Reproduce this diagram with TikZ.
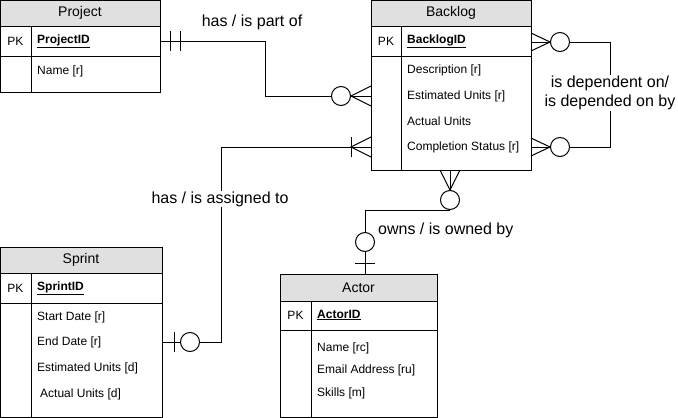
\documentclass[tikz,border=0pt]{standalone}
\usepackage{fontspec}
\setmainfont{Liberation Sans}
\usetikzlibrary{calc}
\definecolor{hdrgray}{RGB}{224,224,224}
\tikzset{
  tbl/.style={draw, line width=1pt, anchor=north west, inner sep=0pt, outer sep=0pt},
  hdr/.style={tbl, fill=hdrgray, font=\fontsize{14}{16}\selectfont},
  attr/.style={anchor=west, inner sep=0pt, font=\fontsize{12}{14}\selectfont},
  pklab/.style={inner sep=0pt, font=\fontsize{12}{14}\selectfont},
  pkattr/.style={attr, font=\fontsize{12}{14}\selectfont\bfseries},
  rel/.style={font=\fontsize{16}{19}\selectfont, fill=white, inner sep=1pt, align=center},
  conn/.style={line width=1pt},
  ring/.style={circle, draw, line width=1pt, minimum size=19pt, inner sep=0pt, fill=white},
}
\begin{document}
\begin{tikzpicture}[x=1pt,y=-1pt]
\useasboundingbox (0,0) rectangle (678,418);

% ---------- Project ----------
\node[hdr, minimum width=160pt, minimum height=26pt] (pjH) at (0,0) {Project};
\node[tbl, minimum width=160pt, minimum height=30pt] (pjPK) at (0,26) {};
\node[tbl, minimum width=160pt, minimum height=36pt] (pjB) at (0,56) {};
\draw[conn] (31,26) -- (31,92);
\node[pklab] (pjPKl) at (15.5,41) {PK};
\node[pkattr] (pjID) at (37,41) {\underline{ProjectID}};
\node[attr] (pjA1) at (37,71) {Name [r]};

% ---------- Backlog ----------
\node[hdr, minimum width=160pt, minimum height=26pt] (blH) at (371,0) {Backlog};
\node[tbl, minimum width=160pt, minimum height=30pt] (blPK) at (371,26) {};
\node[tbl, minimum width=160pt, minimum height=114pt] (blB) at (371,56) {};
\draw[conn] (401,26) -- (401,170);
\node[pklab] (blPKl) at (386,41) {PK};
\node[pkattr] (blID) at (407,41) {\underline{BacklogID}};
\node[attr] (blA1) at (407,70) {Description [r]};
\node[attr] (blA2) at (407,96) {Estimated Units [r]};
\node[attr] (blA3) at (407,121) {Actual Units};
\node[attr] (blA4) at (407,147) {Completion Status [r]};

% ---------- Sprint ----------
\node[hdr, minimum width=162pt, minimum height=26pt] (spH) at (0,247) {Sprint};
\node[tbl, minimum width=162pt, minimum height=30pt] (spPK) at (0,273) {};
\node[tbl, minimum width=162pt, minimum height=114pt] (spB) at (0,303) {};
\draw[conn] (31,273) -- (31,417);
\node[pklab] (spPKl) at (15.5,288) {PK};
\node[pkattr] (spID) at (37,288) {\underline{SprintID}};
\node[attr] (spA1) at (37,317) {Start Date [r]};
\node[attr] (spA2) at (37,342) {End Date [r]};
\node[attr] (spA3) at (37,368) {Estimated Units [d]};
\node[attr] (spA4) at (40,394) {Actual Units [d]};

% ---------- Actor ----------
\node[hdr, minimum width=157pt, minimum height=27pt] (acH) at (280,274) {Actor};
\node[tbl, minimum width=157pt, minimum height=29pt] (acPK) at (280,301) {};
\node[tbl, minimum width=157pt, minimum height=87pt] (acB) at (280,330) {};
\draw[conn] (311,301) -- (311,417);
\node[pklab] (acPKl) at (295.5,315) {PK};
\node[pkattr] (acID) at (317,315) {\underline{ActorID}};
\node[attr] (acA1) at (317,348) {Name [rc]};
\node[attr] (acA2) at (317,370) {Email Address [ru]};
\node[attr] (acA3) at (317,393) {Skills [m]};

% ---------- Project -- Backlog ----------
\node[ring] (r1) at (341,96) {};
\draw[conn] (pjPK.east) -- (265,41) |- (r1.west);
\draw[conn] (170,31) -- (170,51);
\draw[conn] (180,31) -- (180,51);
\draw[conn] ($(r1.east -| blB.west)+(0,-10)$) -- (r1.east) -- ($(r1.east -| blB.west)+(0,10)$);
\draw[conn] (r1.east) -- (r1.east -| blB.west);
\node[rel] (lbl1) at (252,22) {has / is part of};

% ---------- Backlog self relation ----------
\node[ring] (r2) at (560,42) {};
\node[ring] (r3) at (560,147) {};
\draw[conn] (r2.east) -- (610,42) -- (610,147) -- (r3.east);
\draw[conn] ($(r2.west -| blB.east)+(0,-9)$) -- (r2.west) -- ($(r2.west -| blB.east)+(0,9)$);
\draw[conn] (r2.west) -- (r2.west -| blB.east);
\draw[conn] ($(r3.west -| blB.east)+(0,-9)$) -- (r3.west) -- ($(r3.west -| blB.east)+(0,9)$);
\draw[conn] (r3.west) -- (r3.west -| blB.east);
\node[rel] (lbl2) at (610,93) {is dependent on/\\is depended on by};

% ---------- Backlog -- Sprint ----------
\node[ring] (r4) at (190,342) {};
\coordinate (bsApex) at (351,147);
\draw[conn] (r4.east) -- (221,342) -- (221,147) -- (bsApex);
\draw[conn] (351,137) -- (351,157);
\draw[conn] ($(bsApex -| blB.west)+(0,-10)$) -- (bsApex) -- ($(bsApex -| blB.west)+(0,10)$);
\draw[conn] (bsApex) -- (bsApex -| blB.west);
\draw[conn] (r4.west -| spB.east) -- (r4.west);
\draw[conn] (174,332) -- (174,352);
\node[rel] (lbl3) at (220,199) {has / is assigned to};

% ---------- Backlog -- Actor ----------
\node[ring] (r5) at (450,200) {};
\node[ring] (r6) at (365,242) {};
\draw[conn] ($(r5.north |- blB.south)+(-10,0)$) -- (r5.north) -- ($(r5.north |- blB.south)+(10,0)$);
\draw[conn] (r5.north) -- (r5.north |- blB.south);
\draw[conn] (r5.south) -- (365,210) -- (r6.north);
\draw[conn] (r6.south) -- (r6.south |- acH.north);
\draw[conn] (355,263) -- (375,263);
\node[rel, anchor=west] (lbl4) at (377,230) {owns / is owned by};
\end{tikzpicture}
\end{document}
